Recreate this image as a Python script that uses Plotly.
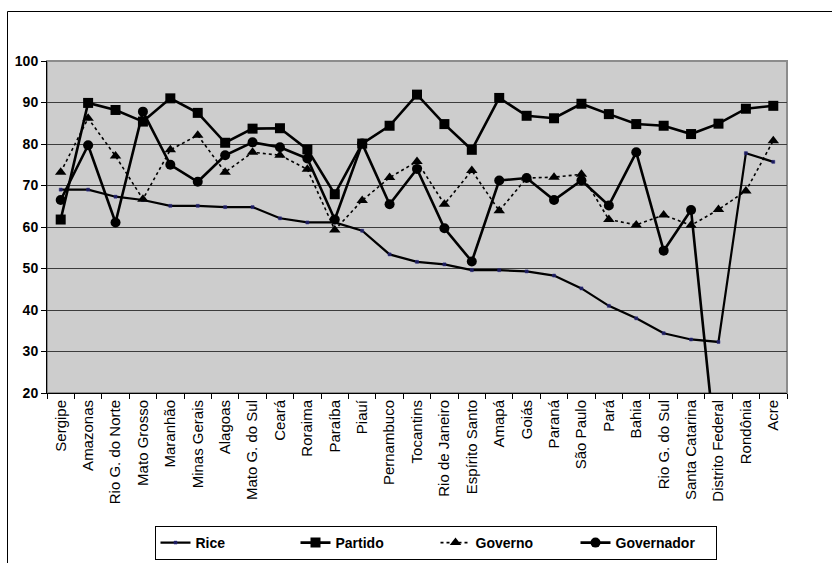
import plotly.graph_objects as go

# Brazilian states along the category axis
states = [
    "Sergipe", "Amazonas", "Rio G. do Norte", "Mato Grosso", "Maranhão",
    "Minas Gerais", "Alagoas", "Mato G. do Sul", "Ceará", "Roraima",
    "Paraíba", "Piauí", "Pernambuco", "Tocantins", "Rio de Janeiro",
    "Espírito Santo", "Amapá", "Goiás", "Paraná", "São Paulo", "Pará",
    "Bahia", "Rio G. do Sul", "Santa Catarina", "Distrito Federal",
    "Rondônia", "Acre",
]

rice = [69.0, 69.0, 67.3, 66.5, 65.1, 65.1, 64.8, 64.8, 62.1, 61.1,
        61.1, 59.1, 53.4, 51.6, 51.0, 49.6, 49.6, 49.3, 48.3, 45.2,
        41.0, 38.0, 34.4, 32.9, 32.3, 77.8, 75.7]

partido = [61.8, 89.9, 88.2, 85.4, 91.0, 87.5, 80.3, 83.7, 83.8, 78.7,
           67.9, 80.1, 84.4, 91.9, 84.8, 78.6, 91.1, 86.8, 86.2, 89.7,
           87.2, 84.8, 84.4, 82.4, 84.9, 88.5, 89.2]

governo = [73.2, 86.2, 77.1, 66.7, 78.6, 82.1, 73.2, 78.0, 77.3, 73.9,
           59.3, 66.4, 71.9, 75.8, 65.5, 73.6, 63.9, 71.8, 72.0, 72.7,
           61.8, 60.5, 62.9, 60.4, 64.2, 68.7, 80.8]

governador = [66.5, 79.7, 61.1, 87.8, 75.0, 70.9, 77.3, 80.4, 79.2, 76.5,
              61.8, 80.1, 65.5, 74.0, 59.7, 51.7, 71.2, 71.8, 66.5, 71.2,
              65.2, 78.0, 54.3, 64.1, 0.0, None, None]

y_ticks = [20, 30, 40, 50, 60, 70, 80, 90, 100]

FONT = "Liberation Sans, Arial, sans-serif"

# plot-area placement in pixels
W, H = 832, 563
L, R, T, B = 47, 787, 61, 393
pw, ph = R - L, B - T


def px_x(p):
    return (p - L) / pw


def px_y(p):
    return (B - p) / ph


fig = go.Figure()

fig.add_trace(go.Scatter(
    x=states, y=rice, name="Rice", mode="lines+markers",
    line=dict(color="black", width=2.2),
    marker=dict(symbol="square", size=3, color="#1c1c5a",
                line=dict(color="#2a2a80", width=0.5)),
))
fig.add_trace(go.Scatter(
    x=states, y=partido, name="Partido", mode="lines+markers",
    line=dict(color="black", width=2.6),
    marker=dict(symbol="square", size=10, color="black"),
))
fig.add_trace(go.Scatter(
    x=states, y=governo, name="Governo", mode="lines+markers",
    line=dict(color="black", width=1.6, dash="dot"),
    marker=dict(symbol="triangle-up", size=10, color="black"),
))
fig.add_trace(go.Scatter(
    x=states, y=governador, name="Governador", mode="lines+markers",
    line=dict(color="black", width=2.6),
    marker=dict(symbol="circle", size=10, color="black"),
    connectgaps=False,
))

# outer chart frame (extends past the right and bottom edges of the page)
fig.add_shape(type="rect", xref="paper", yref="paper",
              x0=px_x(7.5), x1=px_x(W + 20), y0=px_y(H + 20), y1=px_y(11.5),
              line=dict(color="black", width=1), fillcolor="rgba(0,0,0,0)",
              layer="below")
# grey plot-area border
fig.add_shape(type="rect", xref="paper", yref="paper",
              x0=0, x1=1, y0=0, y1=1,
              line=dict(color="#8c8c8c", width=2), fillcolor="rgba(0,0,0,0)",
              layer="below")

fig.update_layout(
    width=W, height=H,
    margin=dict(l=L, r=W - R, t=T, b=H - B, autoexpand=False),
    paper_bgcolor="white",
    plot_bgcolor="#cdcdcd",
    font=dict(family=FONT, color="black", size=14),
    showlegend=True,
    legend=dict(
        orientation="h",
        x=px_x(435.5), xanchor="center",
        y=px_y(526), yanchor="top",
        bgcolor="white", bordercolor="black", borderwidth=1,
        font=dict(family=FONT, size=14, color="black", weight="bold"),
        itemwidth=30,
        entrywidth=95, entrywidthmode="pixels",
        tracegroupgap=0,
    ),
    xaxis=dict(
        type="category",
        categoryorder="array", categoryarray=states,
        tickson="boundaries",
        ticks="outside", ticklen=5, tickcolor="black", tickwidth=1,
        tickangle=-90,
        tickfont=dict(family=FONT, size=15, color="black"),
        showline=True, linecolor="black", linewidth=1,
        showgrid=False, zeroline=False,
        range=[-0.5, len(states) - 0.5],
    ),
    yaxis=dict(
        range=[20, 100],
        tickvals=y_ticks,
        ticks="outside", ticklen=5, tickcolor="black", tickwidth=1,
        tickfont=dict(family=FONT, size=14, color="black", weight="bold"),
        showline=True, linecolor="black", linewidth=1,
        showgrid=True, gridcolor="#3c3c3c", gridwidth=1,
        zeroline=False,
    ),
)

fig.write_html("out.html")
